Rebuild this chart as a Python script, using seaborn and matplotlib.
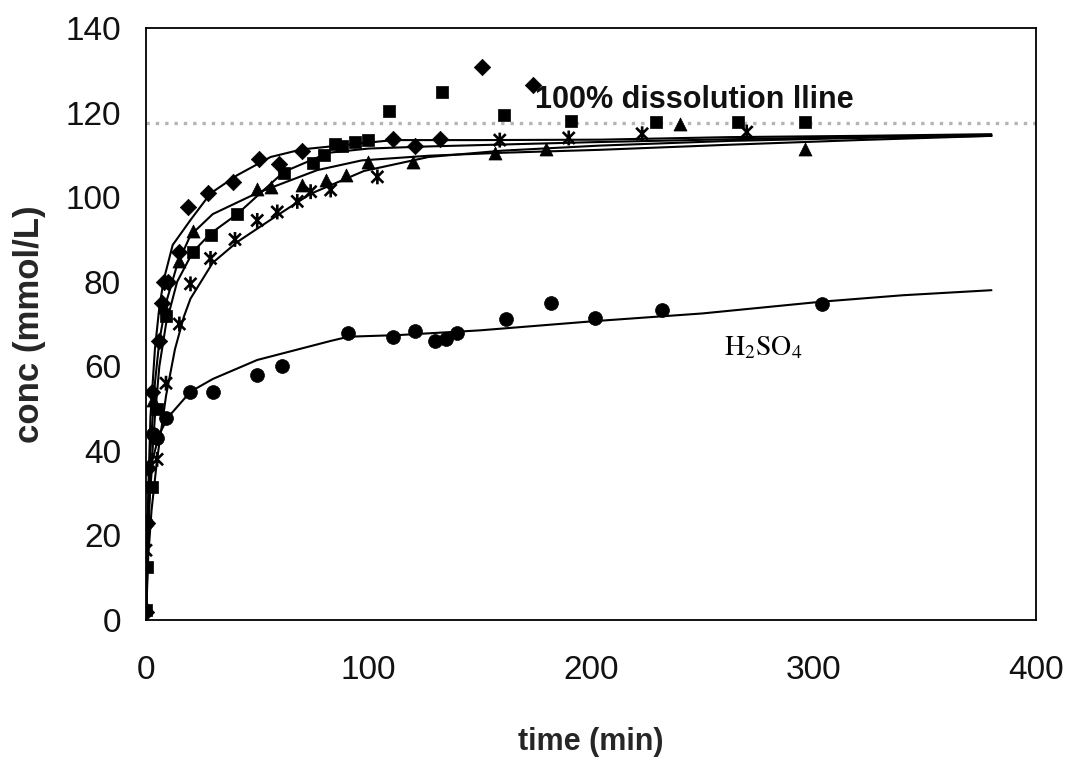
import numpy as np
import pandas as pd
import matplotlib
matplotlib.use("Agg")
import matplotlib.pyplot as plt
from matplotlib.path import Path
import seaborn as sns

# ---------------- data ----------------
dia_x = [0, 0.3, 1, 2.5, 6, 7, 8, 10, 15, 19, 28, 39, 51, 60, 70, 111, 121, 132, 151, 174]
dia_y = [2, 23, 36, 54, 66, 75, 80, 80, 87, 97.7, 101, 103.6, 109, 107.8, 111, 113.8, 112.2, 113.7, 130.7, 126.5]

sq_x = [0, 0.5, 2.5, 5, 9, 21, 29, 41, 62, 75, 80, 85, 88, 94, 100, 109, 133, 161, 191, 229, 266, 296]
sq_y = [2.4, 12.6, 31.5, 50, 72, 87, 91, 96, 105.6, 108, 110, 112.5, 112, 113, 113.5, 120.4, 124.9, 119.4, 118, 117.8, 117.8, 117.8]

tri_x = [0, 0.5, 3, 8, 15, 21, 50, 56, 70, 81, 90, 100, 120, 157, 180, 240, 296]
tri_y = [3, 24, 52, 74, 85, 92, 102, 102.4, 102.8, 104, 105.2, 108.4, 108.4, 110.5, 111.3, 117.4, 111.5]

star_x = [0, 5, 9, 15, 20, 29, 40, 50, 59, 68, 74, 83, 104, 159, 190, 223, 270]
star_y = [16.5, 38, 56, 70, 79.5, 85.5, 90, 94.5, 96.5, 99, 101.3, 101.7, 104.8, 113.5, 114, 115, 115.4]

circ_x = [0, 3, 5, 9, 20, 30, 50, 61, 91, 111, 121, 130, 135, 140, 162, 182, 202, 232, 304]
circ_y = [23, 44, 43, 47.7, 54, 54, 58, 60, 67.8, 67, 68.3, 66, 66.5, 67.8, 71.3, 75, 71.5, 73.3, 74.7]

# fitted curves
fit_dia_x = [0, 1, 2, 4, 6, 8, 12, 20, 29, 41, 56, 70, 111, 150, 204, 262, 320, 380]
fit_dia_y = [0, 30, 48, 64, 74, 80.5, 88.7, 94.6, 100.9, 105.2, 109.5, 111.3, 113.5, 113.5, 113.6, 114.2, 114.5, 114.9]

fit_sq_x = [0, 1, 2, 4, 6, 9, 14, 21, 29, 41, 62, 82, 100, 127, 200, 262, 320, 380]
fit_sq_y = [0, 20, 33, 48, 60, 70, 80, 87, 91.4, 96, 106, 110.5, 111.5, 112, 113, 113.7, 114.2, 114.6]

fit_tri_x = [0, 1, 2, 4, 6, 9, 14, 20, 30, 50, 77, 97, 127, 160, 204, 262, 320, 380]
fit_tri_y = [0, 26, 40, 56, 66, 75, 84, 91, 96, 101, 106.4, 108.7, 109.8, 110.5, 111.2, 112.4, 113.5, 114.5]

fit_star_x = [0, 1, 2.5, 5, 9, 13, 17, 20, 30, 41, 59, 74, 98, 127, 160, 204, 262, 320, 380]
fit_star_y = [0, 15, 26, 38, 53, 64, 71.7, 76, 84.5, 89.4, 95.7, 100.8, 106.2, 109.5, 111, 112.2, 113.3, 114, 114.5]

fit_circ_x = [0, 1, 3, 6, 10, 15, 20, 30, 50, 83, 91, 114, 150, 202, 250, 304, 340, 380]
fit_circ_y = [0, 25, 38, 44, 48, 51, 54, 57, 61.5, 66, 67, 67.4, 68.5, 70.7, 72.5, 75.3, 76.8, 78]

dissolution_level = 117.5
x_ticks = [0, 100, 200, 300, 400]
y_ticks = [0, 20, 40, 60, 80, 100, 120, 140]

# ---------------- plotting ----------------
sns.set_theme(style="white")
plt.rcParams['font.family'] = ['Liberation Sans', 'DejaVu Sans']
plt.rcParams['mathtext.fontset'] = 'stix'

fig = plt.figure(figsize=(10.68, 7.6), dpi=100)
ax = fig.add_axes([0.1367, 0.1842, 0.8333, 0.7789])

# dissolution line
ax.axhline(dissolution_level, color='#b4b4b4', lw=2.4, linestyle=(0, (1, 1.8)), zorder=1)

fits = [(fit_dia_x, fit_dia_y), (fit_sq_x, fit_sq_y), (fit_tri_x, fit_tri_y),
        (fit_star_x, fit_star_y), (fit_circ_x, fit_circ_y)]
for fx, fy in fits:
    df = pd.DataFrame({'x': fx, 'y': fy})
    sns.lineplot(data=df, x='x', y='y', ax=ax, color='black', lw=1.5,
                 estimator=None, sort=False, zorder=2)

star_path = Path([(0, -1), (0, 1), (-0.8, -0.8), (0.8, 0.8), (-0.8, 0.8), (0.8, -0.8)],
                 [Path.MOVETO, Path.LINETO, Path.MOVETO, Path.LINETO, Path.MOVETO, Path.LINETO])

pts = [(dia_x, dia_y, 'D', 70), (sq_x, sq_y, 's', 76), (tri_x, tri_y, '^', 88),
       (circ_x, circ_y, 'o', 100)]
for px, py, mk, s in pts:
    df = pd.DataFrame({'x': px, 'y': py})
    sns.scatterplot(data=df, x='x', y='y', ax=ax, marker=mk, s=s, color='black',
                    edgecolor='black', linewidth=0.5, zorder=3)
df = pd.DataFrame({'x': star_x, 'y': star_y})
sns.scatterplot(data=df, x='x', y='y', ax=ax, marker=star_path, s=115,
                facecolor='none', edgecolor='black', linewidth=1.9, zorder=3)

ax.set_xlim(0, 400)
ax.set_ylim(0, 140)
ax.set_xticks(x_ticks)
ax.set_yticks(y_ticks)
ax.tick_params(axis='both', direction='out', length=8, width=1.2, color='black',
               labelsize=24, labelcolor='#111111')
ax.tick_params(axis='x', pad=17)
ax.tick_params(axis='y', pad=10)
for sp in ax.spines.values():
    sp.set_visible(True)
    sp.set_color('black')
    sp.set_linewidth(1.3)

ax.set_xlabel('time (min)', fontsize=22, fontweight='bold', labelpad=30)
ax.set_ylabel('conc (mmol/L)', fontsize=25, fontweight='bold', labelpad=14)

ax.text(175, 121, '100% dissolution lline', fontsize=22, fontweight='bold',
        color='#111111', ha='left', va='baseline', zorder=4)
ax.text(260, 62.6, r'$\mathrm{H_2SO_4}$', fontsize=20, color='black',
        ha='left', va='baseline')

fig.savefig('out.png', dpi=100, facecolor='white')
